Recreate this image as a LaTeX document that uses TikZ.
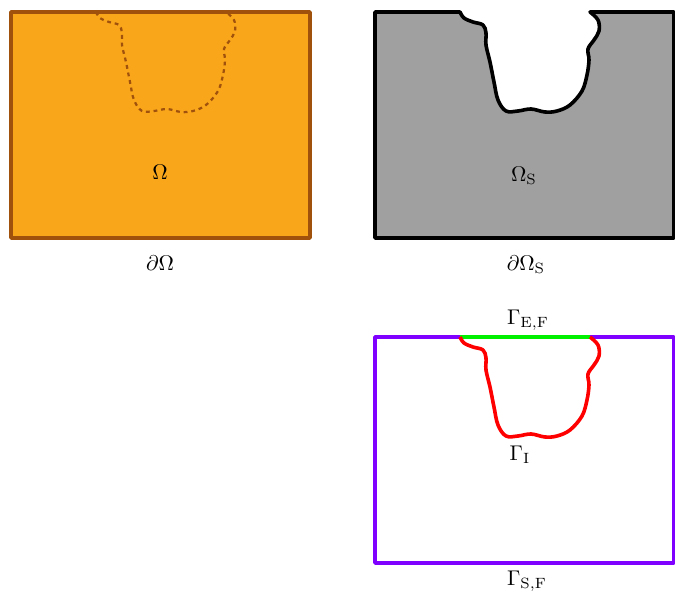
\documentclass[tikz,border=0pt]{standalone}
\usepackage{amsmath,amssymb}
\usetikzlibrary{calc}
\definecolor{domainorange}{RGB}{249,166,26}
\definecolor{domainbrown}{RGB}{160,82,12}
\definecolor{solidgray}{RGB}{160,160,160}
\definecolor{fixedpurple}{RGB}{128,0,255}
\definecolor{freegreen}{RGB}{0,240,0}
\definecolor{ifacered}{RGB}{255,0,0}
\newcommand{\crack}{plot[smooth,tension=0.6] coordinates {(85,0) (89,6) (98,10) (108,13) (111,21) (111,33) (115,50) (119,70) (123,88) (131,99) (143,99) (156,97) (170,100) (182,99) (195,93) (207,79) (212,63) (214,48) (213,37) (219,28) (224,19) (223,8) (215,0)}}

\begin{document}
\begin{tikzpicture}[x=0.47pt, y=-0.47pt, line join=round,
    border/.style={line width=1.7pt}]
    \useasboundingbox (0,0) rectangle (675,592);
    \coordinate (O1) at (11,12);
    \coordinate (O2) at (375,12);
    \coordinate (O3) at (375,337);
    % full domain
    \begin{scope}[shift={(O1)}]
        \filldraw[border, draw=domainbrown, fill=domainorange] (0,0) rectangle (299,226);
        \draw[line width=1.05pt, domainbrown, dash pattern=on 1.8pt off 1.8pt] \crack;
    \end{scope}
    % solid part
    \begin{scope}[shift={(O2)}]
        \filldraw[border, fill=solidgray] (0,0) -- plot[smooth,tension=0.6] coordinates {(85,0) (89,6) (98,10) (108,13) (111,21) (111,33) (115,50) (119,70) (123,88) (131,99) (143,99) (156,97) (170,100) (182,99) (195,93) (207,79) (212,63) (214,48) (213,37) (219,28) (224,19) (223,8) (215,0)} -- (299,0) -- (299,226) -- (0,226) -- cycle;
    \end{scope}
    % boundaries
    \begin{scope}[shift={(O3)}]
        \draw[border, fixedpurple] (0,0) rectangle (299,226);
        \draw[line width=2pt, freegreen] (85,0) -- (215,0);
        \draw[border, ifacered] \crack;
    \end{scope}
    \node (Om) at (160,172) {$\Omega$};
    \node (dOm) at (160,263) {$\partial\Omega$};
    \node (OmS) at (524,176) {$\Omega_{\mathrm{S}}$};
    \node (dOmS) at (526,265) {$\partial\Omega_{\mathrm{S}}$};
    \node (GEF) at (528,320) {$\Gamma_{\mathrm{E,F}}$};
    \node (GI) at (520,455) {$\Gamma_{\mathrm{I}}$};
    \node (GSF) at (527,581) {$\Gamma_{\mathrm{S,F}}$};
\end{tikzpicture}
\end{document}
